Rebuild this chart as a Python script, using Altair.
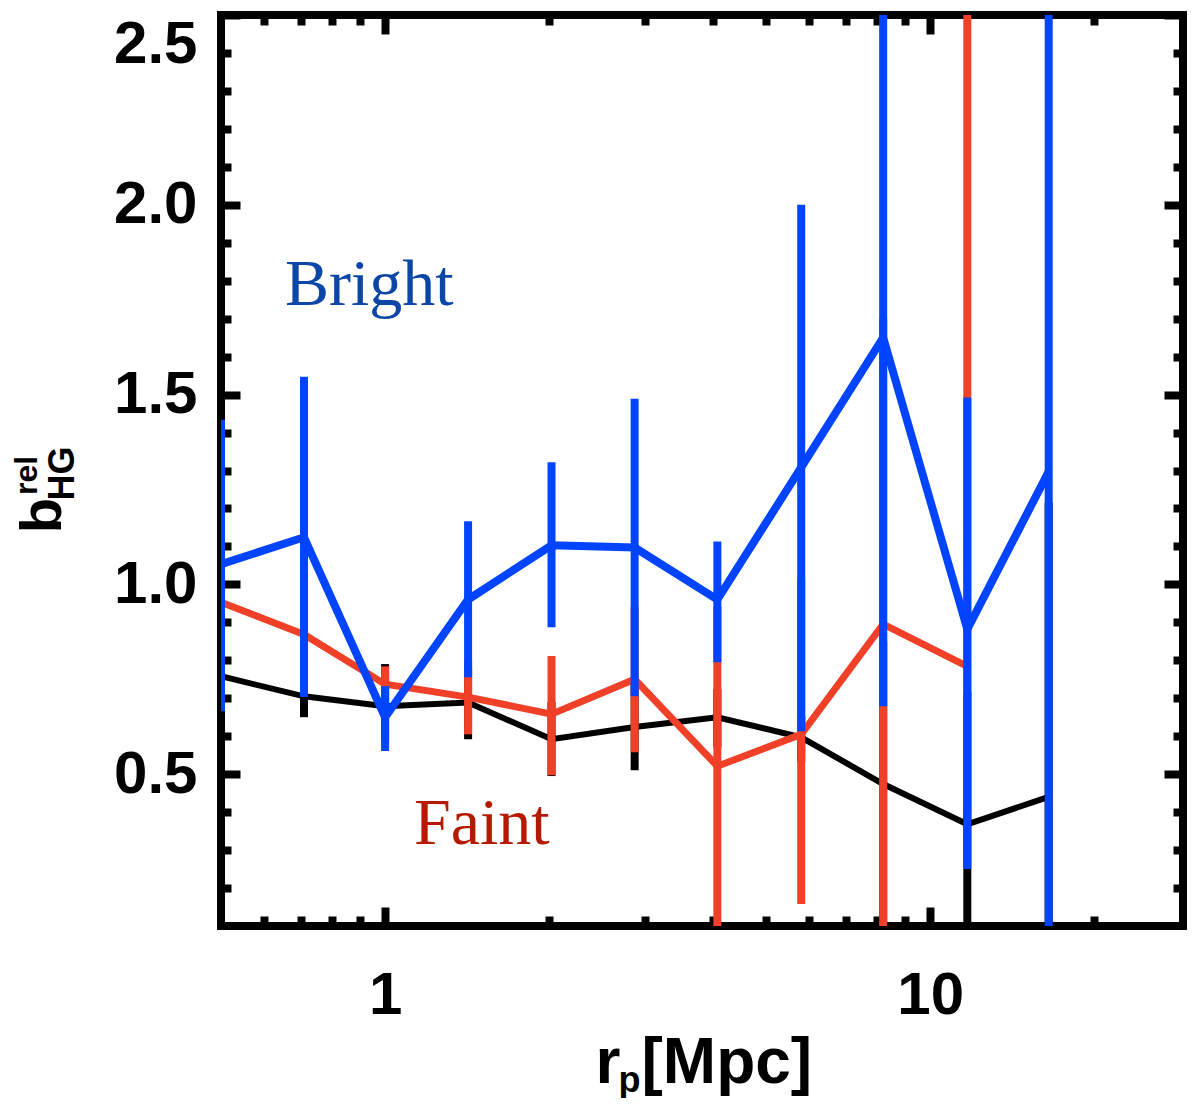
import altair as alt
import pandas as pd

# ---------------- data ----------------
r_p = [0.5, 0.71, 1.0, 1.42, 2.02, 2.87, 4.07, 5.8, 8.2, 11.7, 16.5]

all_b = [0.758, 0.705, 0.679, 0.689, 0.592, 0.624, 0.650, 0.597, 0.474, 0.368, 0.440]
all_lo = [0.700, 0.650, 0.587, 0.592, 0.495, 0.510, 0.571, 0.532, 0.100, 0.020, -0.340]
all_hi = [0.820, 0.768, 0.790, 0.782, 0.690, 0.740, 0.724, 0.653, 0.850, 0.716, 1.216]

faint_r = [0.5, 0.71, 1.0, 1.42, 2.02, 2.87, 4.07, 5.8, 8.2, 11.7]
faint_b = [0.953, 0.868, 0.737, 0.703, 0.658, 0.750, 0.521, 0.605, 0.895, 0.784]
faint_lo = [0.797, 0.829, 0.690, 0.605, 0.497, 0.558, 0.100, 0.158, 0.090, 0.400]
faint_hi = [1.124, 0.916, 0.784, 0.803, 0.811, 0.940, 0.942, 1.018, 1.700, 2.600]

bright_b = [1.053, 1.124, 0.650, 0.960, 1.103, 1.097, 0.960, 1.308, 1.650, 0.882, 1.297]
bright_lo = [0.666, 0.703, 0.561, 0.755, 0.887, 0.705, 0.795, 0.613, 0.679, 0.250, -0.050]
bright_hi = [1.434, 1.547, 0.732, 1.166, 1.322, 1.489, 1.113, 2.000, 2.620, 1.492, 2.650]

y_major = [0.5, 1.0, 1.5, 2.0, 2.5]
y_minor = [0.2, 0.3, 0.4, 0.6, 0.7, 0.8, 0.9, 1.1, 1.2, 1.3, 1.4, 1.6, 1.7, 1.8,
           1.9, 2.1, 2.2, 2.3, 2.4]
x_major = [1, 10]
x_minor = [0.6, 0.7, 0.8, 0.9, 2, 3, 4, 5, 6, 7, 8, 9, 20]

label_text = ["Bright", "Faint"]
label_x = [0.655, 1.13]
label_y = [1.737, 0.316]
label_color = ["#0c47a8", "#b51a00"]

BLUE = "#0044ff"
RED = "#f04028"
FONT = "Liberation Sans"

df_all = pd.DataFrame({"r": r_p, "b": all_b, "lo": all_lo, "hi": all_hi})
df_faint = pd.DataFrame({"r": faint_r, "b": faint_b, "lo": faint_lo, "hi": faint_hi})
df_bright = pd.DataFrame({"r": r_p, "b": bright_b, "lo": bright_lo, "hi": bright_hi})
df_lab = pd.DataFrame({"x": label_x, "y": label_y, "t": label_text, "c": label_color})

xs = alt.Scale(type="log", domain=[0.5, 29.1], nice=False)
ys = alt.Scale(domain=[0.1, 2.5], nice=False, zero=False)


def title_kw(text, tx, ty, size, angle, align):
    return dict(title=text, titleX=tx, titleY=ty, titleFontSize=size, titleAngle=angle,
                titleAlign=align, titleBaseline="alphabetic", titleFont=FONT,
                titleFontWeight="bold", titleColor="black")


def tick_axis(orient, offset, size, values, **kw):
    return alt.Axis(orient=orient, offset=offset, ticks=True, tickSize=size, tickWidth=8,
                    tickColor="black", labels=False, domain=False, grid=False,
                    values=values, **kw)


# labelled axes
y_lab = alt.Axis(orient="left", values=y_major, format=".1f", ticks=False, tickSize=0,
                 domain=False, grid=False, labelFont=FONT, labelFontSize=60,
                 labelFontWeight="bold", labelColor="black", labelPadding=24,
                 labelFlush=True, **title_kw("b", -161, 500, 58, 270, "center"))
x_lab = alt.Axis(orient="bottom", values=x_major, format="~g", ticks=False, tickSize=0,
                 domain=False, grid=False, labelFont=FONT, labelFontSize=60,
                 labelFontWeight="bold", labelColor="black", labelPadding=40,
                 labelFlush=False, **title_kw("r", 374, 156, 64, 0, "left"))

# inward ticks (major / minor) on all four sides
y_left_major = tick_axis("left", -19, 19, y_major, **title_kw("rel", -204, 460, 32, 270, "center"))
y_left_minor = tick_axis("left", -10, 10, y_minor, **title_kw("HG", -158, 458, 36, 270, "center"))
x_bot_major = tick_axis("bottom", -19, 19, x_major, **title_kw("[Mpc]", 420, 175, 64, 0, "left"))
x_bot_minor = tick_axis("bottom", -10, 10, x_minor, **title_kw("p", 397, 175, 36, 0, "left"))
y_right_major = tick_axis("right", -19, 19, y_major, title="")
y_right_minor = tick_axis("right", -10, 10, y_minor, title="")
x_top_major = tick_axis("top", -19, 19, x_major, title="")
x_top_minor = tick_axis("top", -10, 10, x_minor, title="")


def bars(df, color, xaxis, yaxis):
    return alt.Chart(df).mark_rule(color=color, strokeWidth=8, clip=True).encode(
        x=alt.X("r:Q", scale=xs, axis=xaxis),
        y=alt.Y("lo:Q", scale=ys, axis=yaxis),
        y2="hi:Q",
    )


def line(df, color, width, xaxis, yaxis):
    return alt.Chart(df).mark_line(color=color, strokeWidth=width, clip=True,
                                   strokeJoin="miter", strokeMiterLimit=4).encode(
        x=alt.X("r:Q", scale=xs, axis=xaxis),
        y=alt.Y("b:Q", scale=ys, axis=yaxis),
    )


black_bars = bars(df_all, "black", x_lab, y_lab)
black_line = line(df_all, "black", 6, x_bot_major, y_left_major)
red_bars = bars(df_faint, RED, x_bot_minor, y_left_minor)
red_line = line(df_faint, RED, 7, x_top_major, y_right_major)
blue_bars = bars(df_bright, BLUE, x_top_minor, y_right_minor)
blue_line = line(df_bright, BLUE, 8, None, None)

texts = alt.Chart(df_lab).mark_text(font="Liberation Serif", fontSize=66, align="left",
                                    baseline="alphabetic").encode(
    x=alt.X("x:Q", scale=xs, axis=None),
    y=alt.Y("y:Q", scale=ys, axis=None),
    text="t:N",
    color=alt.Color("c:N", scale=None),
)

chart = alt.layer(
    black_bars, black_line, red_bars, red_line, blue_bars, blue_line, texts
).resolve_axis(
    x="independent", y="independent"
).properties(
    width=962, height=911,
    autosize=alt.AutoSizeParams(type="none"),
    padding={"left": 213, "top": 7, "right": 4, "bottom": 172},
).configure_view(
    stroke="black", strokeWidth=8
).configure_axis(grid=False)

chart.save("out.html", embed_options={"renderer": "svg", "actions": False})
